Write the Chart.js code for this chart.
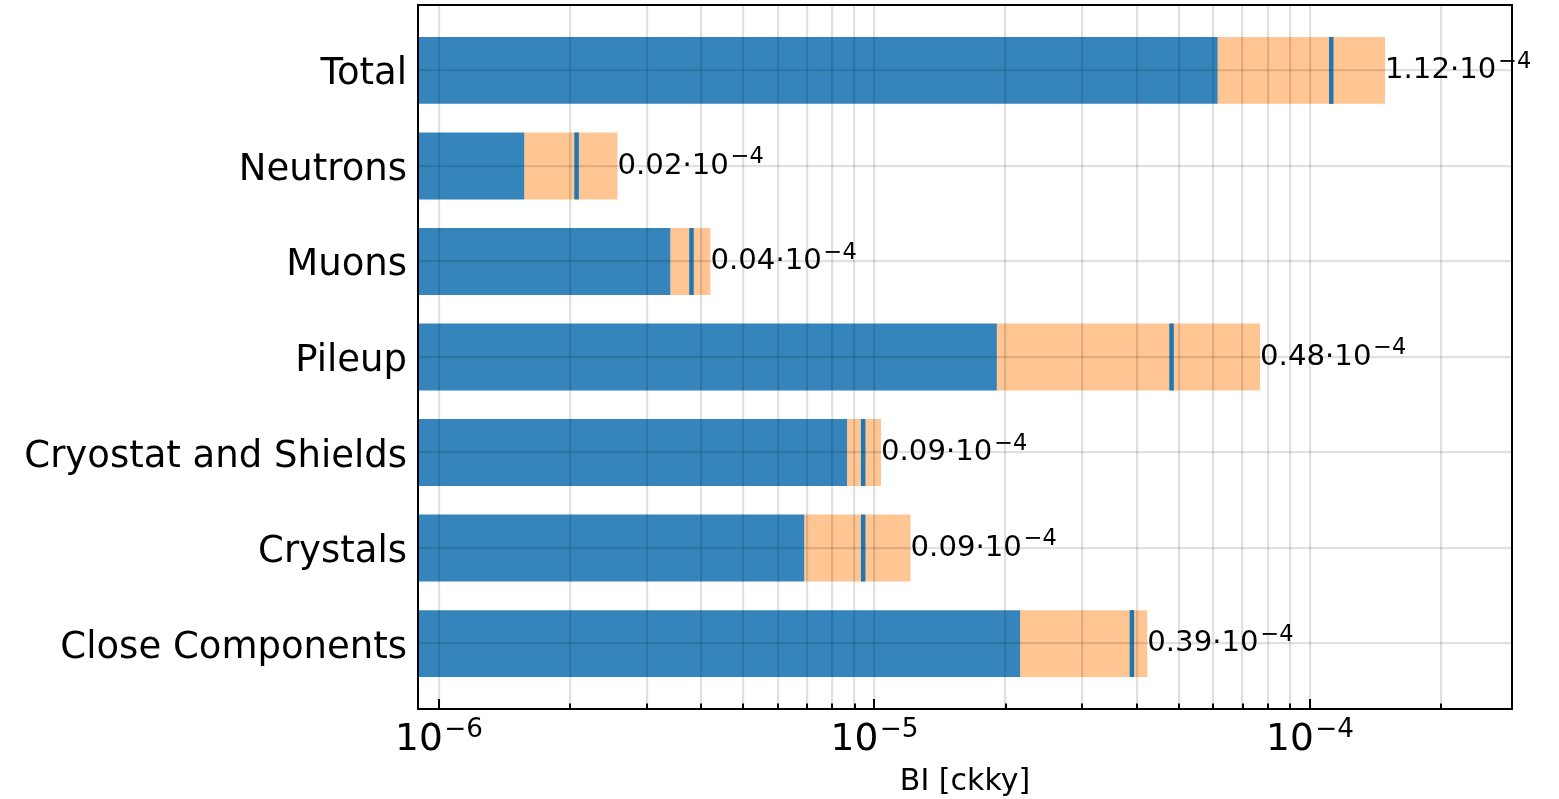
<!DOCTYPE html>
<html>
<head>
<meta charset="utf-8">
<title>Background index by source</title>
<script src="https://cdn.jsdelivr.net/npm/chart.js@4.4.1/dist/chart.umd.min.js"></script>
<style>
  html, body { margin: 0; padding: 0; background: #ffffff; }
  #wrap { width: 1559px; height: 799px; }
  canvas { display: block; }
</style>
</head>
<body>
<div id="wrap"><canvas id="bi" width="1559" height="799"></canvas></div>
<script>
// Background index contributions, in counts/(keV kg yr)
const categories = ['Total', 'Neutrons', 'Muons', 'Pileup', 'Cryostat and Shields', 'Crystals', 'Close Components'];
const lowerBound = [6.14e-5, 1.57e-6, 3.40e-6, 1.91e-5, 8.65e-6, 6.90e-6, 2.16e-5];
const medianBI   = [1.119e-4, 2.07e-6, 3.80e-6, 4.81e-5, 9.42e-6, 9.42e-6, 3.90e-5];
const upperBound = [1.487e-4, 2.57e-6, 4.20e-6, 7.68e-5, 1.035e-5, 1.21e-5, 4.23e-5];

// Axis ticks
const majorTicks = [1e-6, 1e-5, 1e-4];
const majorTickExponents = ['\u22126', '\u22125', '\u22124'];
const minorMultipliers = [2, 3, 4, 5, 6, 7, 8, 9];
const xLimits = [8.95e-7, 2.91e-4];
const labelScale = 1e-4;
const labelExponent = '\u22124';
const xTitle = 'BI [ckky]';

const minorTicks = [];
majorTicks.forEach(m => minorMultipliers.forEach(k => {
  const v = m * k;
  if (v > xLimits[0] && v < xLimits[1]) minorTicks.push(v);
}));
const gridTicks = majorTicks.concat(minorTicks).sort((a, b) => a - b);

const FONT = "'DejaVu Sans', 'Liberation Sans', sans-serif";
const yMargin = 0.685;

// Draws "base" followed by a raised, smaller exponent
function drawPower(ctx, x, baseline, base, exp, size, align, supRatio, gapEm) {
  const supSize = size * supRatio;
  ctx.font = size + 'px ' + FONT;
  const wBase = ctx.measureText(base).width;
  ctx.font = supSize + 'px ' + FONT;
  const wExp = ctx.measureText(exp).width;
  const gap = size * gapEm;
  const total = wBase + gap + wExp;
  const x0 = align === 'center' ? x - total / 2 : x;
  ctx.textAlign = 'left';
  ctx.textBaseline = 'alphabetic';
  ctx.fillStyle = '#000000';
  ctx.font = size + 'px ' + FONT;
  ctx.fillText(base, x0, baseline);
  ctx.font = supSize + 'px ' + FONT;
  ctx.fillText(exp, x0 + wBase + gap, baseline - size * 0.36);
}

const frameAndText = {
  id: 'frameAndText',
  afterDraw(chart) {
    const ctx = chart.ctx;
    const area = chart.chartArea;
    const xs = chart.scales.x;
    const ys = chart.scales.y;
    ctx.save();

    // frame
    ctx.strokeStyle = '#000000';
    ctx.lineWidth = 2;
    ctx.strokeRect(area.left, area.top, area.right - area.left, area.bottom - area.top);

    // inward ticks on the bottom axis
    ctx.lineWidth = 2;
    gridTicks.forEach(v => {
      const px = Math.round(xs.getPixelForValue(v));
      const len = majorTicks.includes(v) ? 10 : 5.5;
      ctx.beginPath();
      ctx.moveTo(px, area.bottom);
      ctx.lineTo(px, area.bottom - len);
      ctx.stroke();
    });

    // bottom tick labels
    majorTicks.forEach((v, i) => {
      drawPower(ctx, xs.getPixelForValue(v), area.bottom + 41, '10', majorTickExponents[i], 37.5, 'center', 0.7, 0.04);
    });

    // axis title
    ctx.fillStyle = '#000000';
    ctx.font = '30px ' + FONT;
    ctx.textAlign = 'center';
    ctx.textBaseline = 'alphabetic';
    ctx.fillText(xTitle, (area.left + area.right) / 2, 790);

    // category labels
    ctx.font = '37px ' + FONT;
    ctx.textAlign = 'right';
    categories.forEach((c, i) => {
      ctx.fillText(c, area.left - 11, ys.getPixelForValue(i) + 14);
    });

    // value labels at the end of each band
    medianBI.forEach((m, i) => {
      const txt = (m / labelScale).toFixed(2) + '\u00b710';
      drawPower(ctx, xs.getPixelForValue(upperBound[i]), ys.getPixelForValue(i) + 7.6, txt, labelExponent, 29.2, 'left', 0.77, 0.06);
    });

    ctx.restore();
  }
};

const gridStyle = { z: 1, offset: false, color: 'rgba(0,0,0,0.12)', lineWidth: 2.2, drawTicks: false };

new Chart(document.getElementById('bi').getContext('2d'), {
  type: 'bar',
  data: {
    datasets: [
      {
        type: 'line',
        label: 'median',
        indexAxis: 'y',
        data: medianBI.map((v, i) => ({ x: v, y: i })),
        showLine: false,
        pointStyle: 'line',
        rotation: 90,
        pointRadius: 33.5,
        pointHoverRadius: 33.5,
        pointBorderWidth: 4.5,
        pointHoverBorderWidth: 4.5,
        borderColor: '#1f77b4',
        backgroundColor: '#1f77b4',
        order: 0
      },
      {
        label: 'range',
        data: lowerBound.map((v, i) => ({ x: [v, upperBound[i]], y: i })),
        backgroundColor: 'rgba(255,127,14,0.45)',
        order: 1
      },
      {
        label: 'lower',
        data: lowerBound.map((v, i) => ({ x: v, y: i })),
        backgroundColor: 'rgba(31,119,180,0.9)',
        order: 2
      }
    ]
  },
  options: {
    indexAxis: 'y',
    responsive: false,
    devicePixelRatio: 1,
    animation: false,
    events: [],
    datasets: {
      bar: { grouped: false, barPercentage: 0.7, categoryPercentage: 1.0, borderWidth: 0, inflateAmount: 0 }
    },
    layout: { autoPadding: false, padding: { left: 0, right: 47, top: 5, bottom: 0 } },
    plugins: { legend: { display: false }, tooltip: { enabled: false }, title: { display: false } },
    scales: {
      x: {
        type: 'logarithmic',
        position: 'bottom',
        offset: false,
        min: xLimits[0],
        max: xLimits[1],
        afterBuildTicks: s => { s.ticks = gridTicks.map(v => ({ value: v, major: majorTicks.includes(v) })); },
        ticks: { display: false },
        grid: gridStyle,
        border: { display: false },
        afterFit: s => { s.height = 90; }
      },
      y: {
        type: 'linear',
        position: 'left',
        reverse: true,
        offset: false,
        min: -yMargin,
        max: categories.length - 1 + yMargin,
        afterBuildTicks: s => { s.ticks = categories.map((_, i) => ({ value: i })); },
        ticks: { display: false },
        grid: gridStyle,
        border: { display: false },
        afterFit: s => { s.width = 418; }
      }
    }
  },
  plugins: [frameAndText]
});
</script>
</body>
</html>
